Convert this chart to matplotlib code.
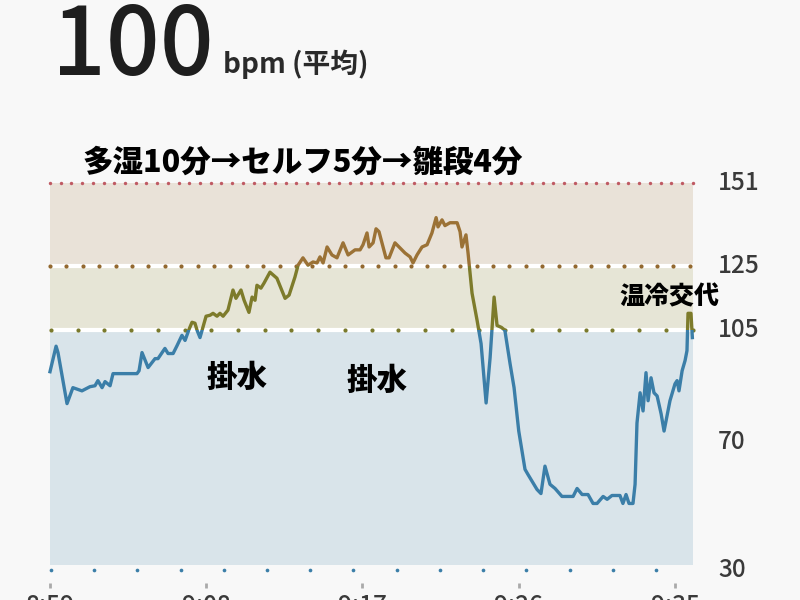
import matplotlib
matplotlib.use('Agg')
import matplotlib.pyplot as plt
import numpy as np
from matplotlib.patches import Rectangle

plt.rcParams['font.family'] = ['Noto Sans CJK JP', 'DejaVu Sans']

# minutes after 8:59 and heart rate
minutes = [0.0, 0.35, 0.46, 0.98, 1.32, 1.84, 2.30, 2.59, 2.76, 3.0, 3.17, 3.46, 3.63, 5.01, 5.13,
           5.30, 5.65, 6.05, 6.22, 6.62, 6.80, 7.09, 7.32, 7.60, 7.78, 8.01, 8.18, 8.35, 8.47, 8.64,
           8.99, 9.22, 9.39, 9.62, 9.79, 9.97, 10.25, 10.54, 10.71, 11.0, 11.18, 11.46, 11.64, 11.81,
           11.92, 12.15, 12.33, 12.67, 13.07, 13.54, 13.77, 14.11, 14.29, 14.57, 14.86, 15.15, 15.38,
           15.55, 15.73, 15.96, 16.24, 16.53, 16.88, 17.17, 17.57, 17.86, 18.03, 18.26, 18.38, 18.61,
           18.78, 18.95, 19.35, 19.53, 19.87, 20.16, 20.45, 20.74, 20.91, 21.14, 21.43, 21.72, 22.0,
           22.24, 22.35, 22.58, 22.75, 23.04, 23.45, 23.62, 23.73, 23.96, 24.08, 24.31, 24.60, 24.83,
           25.12, 25.35, 25.58, 25.75, 26.0, 26.2, 26.5, 26.73, 27.0, 27.36, 27.53, 28.05, 28.28,
           28.51, 28.80, 29.09, 29.49, 30.13, 30.36, 30.65, 30.99, 31.28, 31.51, 31.86, 32.09, 32.37,
           32.83, 33.0, 33.18, 33.35, 33.58, 33.70, 33.81, 33.99, 34.16, 34.33, 34.45, 34.62, 34.79,
           34.97, 35.2, 35.37, 35.71, 36.0, 36.12, 36.23, 36.41, 36.58, 36.69, 36.75, 36.92, 37.0]
bpm = [92, 100, 98, 82, 87, 86, 87.3, 87.6, 89.2, 87, 88.9, 87.6, 91.4, 91.4, 92.3,
       98, 93.3, 96.1, 96.1, 99.3, 97.7, 97.7, 100.2, 103.4, 101.8, 105.3, 107.5, 107.2, 105, 102.7,
       109.4, 109.7, 110.3, 109.4, 110.3, 109.4, 111.3, 117.6, 115, 117.6, 114.4, 110.6, 115.4, 114.4,
       119.1, 118.2, 119.8, 123.2, 121.3, 115, 116, 121.7, 125.4, 127.7, 125.4, 126.4, 126.1,
       128, 126.1, 131.1, 128.6, 127.7, 132.4, 128.6, 130.2, 130.2, 131.8, 135.5, 131.1, 132.4,
       136.8, 135.9, 127.7, 127.7, 132.4, 130.8, 129.2, 128, 126.1, 128.6, 131.1, 131.8, 135.5,
       140.3, 137.4, 139.6, 137.8, 138.7, 138.7, 135.9, 131.1, 134.9, 129.2, 116.6, 108.1, 100.8,
       82.2, 96.4, 115.4, 106.5, 105.9, 105, 94.5, 87, 73.4, 61.4, 59.8, 55.1, 53.8,
       62.4, 56.7, 55.4, 52.9, 52.9, 55.4, 53.5, 53.5, 50.7, 50.7, 52.9, 52, 53.2,
       53.2, 50.7, 53.5, 50.7, 50.7, 56.7, 75.9, 85.4, 79.7, 91.7, 82.9, 90.1, 85.4,
       84.4, 78.8, 73.4, 82.9, 88.2, 89.2, 86, 92.3, 95.5, 98.6, 110.3, 110.3, 102.7]

zone_edges = [31.5, 105, 125, 151]
zone_fill = ['#d9e4ea', '#e6e5d6', '#e9e2d8']
zone_line = ['#3b7ea8', '#7d7b2b', '#9b7236']
y_labels = [151, 125, 105, 70, 30]
time_ticks = [0, 9, 18, 27, 36]
time_labels = ['8:59', '9:08', '9:17', '9:26', '9:35']
notes = [('掛水', 10.77, 90.3, 22), ('掛水', 18.84, 89.4, 22), ('温冷交代', 35.66, 115.7, 18)]
end = 37.04

fig = plt.figure(figsize=(8, 6), dpi=100, facecolor='#f8f8f8')
ax = fig.add_axes([0, 0, 1, 1])
ax.set_xlim(-2.88, 43.20)
ax.set_ylim(20.44, 208.52)
ax.axis('off')

# zone bands
for i in range(3):
    ax.add_patch(Rectangle((0, zone_edges[i]), end, zone_edges[i + 1] - zone_edges[i],
                           color=zone_fill[i], lw=0, zorder=1))
ax.hlines([105, 125], 0, end, color='white', lw=3, zorder=2)

# dotted guides
ax.scatter(np.arange(0, end, 0.617), np.full(len(np.arange(0, end, 0.617)), 151), s=6, color='#bf5a63', zorder=3, lw=0)
ax.scatter(np.arange(0, end, 0.945), np.full(len(np.arange(0, end, 0.945)), 125), s=9, color='#93692f', zorder=3, lw=0)
ax.scatter(np.arange(0.05, end, 1.54), np.full(len(np.arange(0.05, end, 1.54)), 105), s=9, color='#7a7a2c', zorder=3, lw=0)
ax.scatter(np.arange(0.05, 35, 2.49), np.full(len(np.arange(0.05, 35, 2.49)), 30), s=7, color='#3b7ea8', zorder=3, lw=0)

# heart rate line, coloured by zone
for i in range(3):
    ln, = ax.plot(minutes, bpm, color=zone_line[i], lw=2.4, zorder=4, solid_joinstyle='round')
    lo = -100 if i == 0 else zone_edges[i]
    hi = 300 if i == 2 else zone_edges[i + 1]
    ln.set_clip_path(Rectangle((-5, lo), 60, hi - lo, transform=ax.transData))

for v in y_labels:
    ax.text(38.48, v, str(v), fontsize=17.5, weight='medium', color='#3a3a3a', va='center', ha='left')

ax.vlines(time_ticks, 24.3, 25.9, color='#aaaaaa', lw=2)
for t, lab in zip(time_ticks, time_labels):
    ax.text(t, 22.6, lab, fontsize=17.5, weight='medium', color='#3a3a3a', va='top', ha='center')

for s, t, v, fs in notes:
    ax.text(t, v, s, fontsize=fs, weight='heavy', color='black', ha='center', va='center', zorder=5)

fig.text(52 / 800, 1 - 75 / 600, '100', fontsize=68, weight='medium', color='#1e1e1e',
         va='baseline', ha='left')
fig.text(223 / 800, 1 - 73 / 600, 'bpm (平均)', fontsize=20, weight='bold', color='#2a2a2a',
         va='baseline', ha='left')
fig.text(83 / 800, 1 - 162 / 600, '多湿10分→セルフ5分→雛段4分', fontsize=22, weight='heavy',
         color='black', va='center', ha='left')

fig.savefig('out.png', dpi=100, facecolor=fig.get_facecolor())
